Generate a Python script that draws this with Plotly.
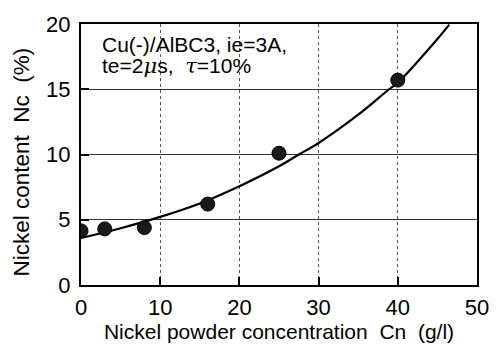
import plotly.graph_objects as go

# measured data points
conc = [0, 3, 8, 16, 25, 40]
nickel = [4.15, 4.3, 4.4, 6.2, 10.1, 15.7]

# fitted curve
curve_x = [0, 5, 10, 15, 20, 25, 27.5, 30, 35, 38.9, 40, 45, 46.5]
curve_y = [3.6, 4.35, 5.22, 6.25, 7.57, 9.1, 10.0, 10.88, 13.05, 15.0, 15.5, 18.85, 19.95]

x_ticks = [0, 10, 20, 30, 40, 50]
y_ticks = [0, 5, 10, 15, 20]

FONT = "Liberation Sans, Arial, sans-serif"

fig = go.Figure()
fig.add_trace(go.Scatter(x=curve_x, y=curve_y, mode="lines",
                         line=dict(color="black", width=2.2, shape="spline"),
                         hoverinfo="skip", showlegend=False))
fig.add_trace(go.Scatter(x=conc, y=nickel, mode="markers",
                         marker=dict(color="#1a1a1a", size=14,
                                     line=dict(color="black", width=1)),
                         showlegend=False))

fig.update_layout(
    width=501, height=352,
    margin=dict(l=81, r=15, t=16, b=64),
    paper_bgcolor="white", plot_bgcolor="white",
    font=dict(family=FONT, size=21, color="black"),
    xaxis=dict(range=[0, 50], tickvals=x_ticks, ticks="inside", ticklen=8,
               tickwidth=2, tickcolor="black", ticklabelstandoff=2,
               showgrid=True, gridcolor="#555", griddash="dot", gridwidth=1,
               showline=True, linecolor="black", linewidth=2, mirror=True,
               zeroline=False, tickfont=dict(size=22),
               title=dict(text="Nickel powder concentration  Cn  (g/l)",
                          font=dict(size=21), standoff=5)),
    yaxis=dict(range=[0, 20], tickvals=y_ticks, ticks="inside", ticklen=8,
               tickwidth=2, tickcolor="black",
               showgrid=True, gridcolor="#333", gridwidth=1,
               showline=True, linecolor="black", linewidth=2, mirror=True,
               zeroline=False, tickfont=dict(size=22), ticklabelstandoff=4),
)

# y-axis title placed as rotated annotation to match reference position
fig.add_annotation(
    x=-0.1506, y=0.4706, xref="paper", yref="paper", xanchor="center", yanchor="middle",
    textangle=-90, showarrow=False, font=dict(size=22.5, family=FONT),
    text="Nickel content  Nc  (%)",
)

GREEK = "<span style='font-family:DejaVu Serif'><i>{}</i></span>"
fig.add_annotation(
    x=2.35, y=18.45, xref="x", yref="y", xanchor="left", yanchor="middle",
    showarrow=False, font=dict(size=21, family=FONT),
    text="Cu(-)/AlBC3, ie=3A,",
)
fig.add_annotation(
    x=2.35, y=16.75, xref="x", yref="y", xanchor="left", yanchor="middle",
    showarrow=False, font=dict(size=21, family=FONT),
    text="te=2" + GREEK.format("μ") + "s,  " + GREEK.format("τ") + "=10%",
)

fig.write_html("out.html")
